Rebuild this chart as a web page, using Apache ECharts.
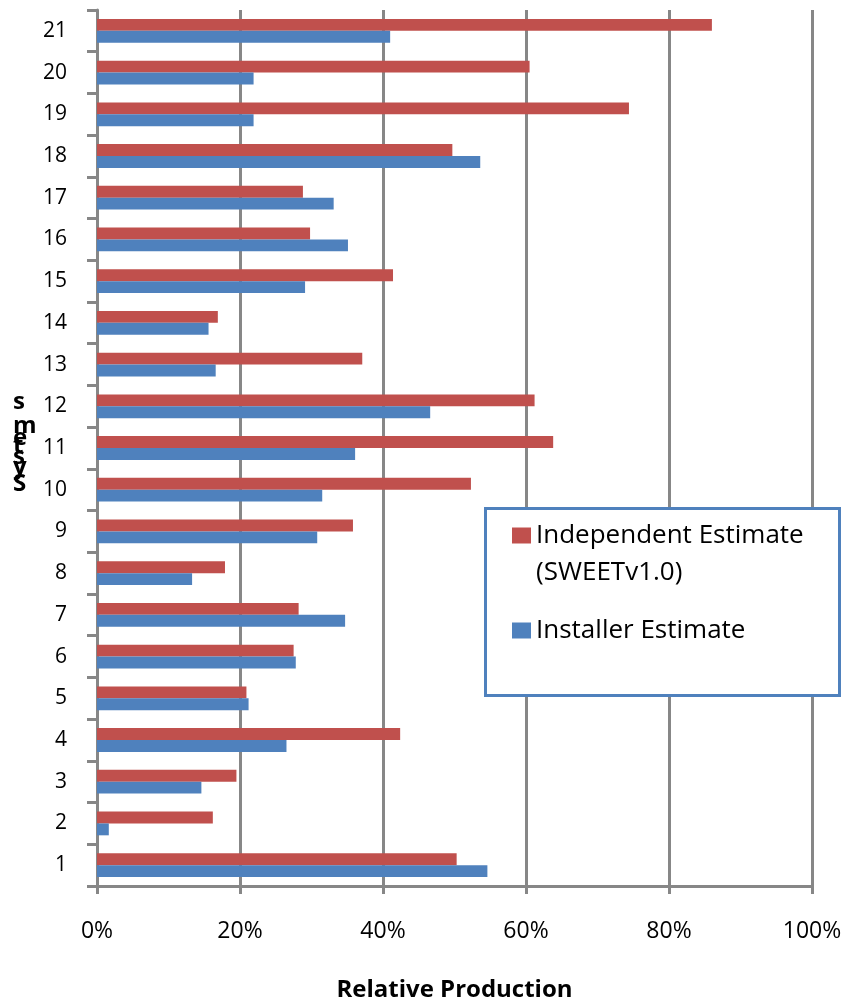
<!DOCTYPE html>
<html>
<head>
<meta charset="utf-8">
<script src="https://cdn.jsdelivr.net/npm/echarts@6/dist/echarts.min.js"></script>
<style>
  html, body { margin: 0; padding: 0; background: #fff; }
  #chart { width: 851px; height: 1006px; }
</style>
</head>
<body>
<div id="chart"></div>
<script>
// Systems 1..21 (bottom to top)
const categories = ['1','2','3','4','5','6','7','8','9','10','11','12','13','14','15','16','17','18','19','20','21'];

// Relative production, percent
const independentEstimate = [50.3, 16.2, 19.5, 42.4, 20.9, 27.5, 28.2, 17.9, 35.8, 52.3, 63.8, 61.2, 37.1, 16.9, 41.4, 29.8, 28.8, 49.7, 74.4, 60.5, 86.0];
const installerEstimate   = [54.6, 1.65, 14.6, 26.5, 21.2, 27.8, 34.7, 13.3, 30.8, 31.5, 36.1, 46.6, 16.6, 15.6, 29.1, 35.1, 33.1, 53.6, 21.9, 21.9, 41.0];

const seriesNames = ['Independent Estimate (SWEETv1.0)', 'Installer Estimate'];

const FONT = '"Open Sans", "Liberation Sans", sans-serif';
const GRID_GRAY = '#878787';
const RED = '#C0504D';
const BLUE = '#4F81BD';

// "Systems" stacked letter by letter, top to bottom, each line with its own height
const yTitleLetters = ['s', 'm', 'e', 't', 's', 'y', 'S'];
const yTitleLineHeights = [30, 18, 6, 10, 12, 8, 26];
const yTitleRich = {};
yTitleLetters.forEach((ch, i) => {
  yTitleRich['l' + i] = {
    fontFamily: FONT, fontSize: 24, fontWeight: 'bold', color: '#000',
    lineHeight: yTitleLineHeights[i]
  };
});
const yTitle = yTitleLetters.map((ch, i) => '{l' + i + '|' + ch + '}').join('\n');

const chart = echarts.init(document.getElementById('chart'), null, { renderer: 'canvas' });

chart.setOption({
  animation: false,
  backgroundColor: '#fff',
  textStyle: { fontFamily: FONT },
  grid: { left: 97, right: 39, top: 10, bottom: 120, containLabel: false, outerBoundsMode: 'none' },
  xAxis: {
    type: 'value',
    min: 0,
    max: 100,
    interval: 20,
    name: 'Relative Production',
    nameLocation: 'middle',
    nameGap: 92,
    nameTextStyle: { fontFamily: FONT, fontSize: 24, fontWeight: 'bold', color: '#000' },
    axisLine: { show: true, lineStyle: { color: GRID_GRAY, width: 3 } },
    axisTick: { show: true, length: 8, lineStyle: { color: GRID_GRAY, width: 3 } },
    splitLine: { show: true, lineStyle: { color: GRID_GRAY, width: 3 } },
    axisLabel: { formatter: '{value}%', fontFamily: FONT, fontSize: 23, color: '#000', margin: 34 }
  },
  yAxis: {
    type: 'category',
    data: categories,
    name: yTitle,
    nameLocation: 'middle',
    nameRotate: 0,
    nameGap: 84,
    nameTextStyle: {
      fontFamily: FONT, fontSize: 24, fontWeight: 'bold', color: '#000',
      align: 'left', padding: [0, 0, 12, 0], rich: yTitleRich
    },
    axisLine: { show: true, lineStyle: { color: GRID_GRAY, width: 3 } },
    axisTick: { show: true, length: 10, interval: 0, lineStyle: { color: GRID_GRAY, width: 3 } },
    splitLine: { show: false },
    axisLabel: { fontFamily: FONT, fontSize: 21, color: '#000', margin: 30, interval: 0 }
  },
  legend: [
    {
      data: [seriesNames[0]],
      orient: 'vertical',
      left: 512,
      top: 480,
      padding: 0,
      z: 10,
      icon: 'rect',
      itemWidth: 19,
      itemHeight: 16,
      selectedMode: false,
      // blank first line keeps the swatch level with the first text line
      formatter: (name) => ' \n' + name.replace(' (', '\n('),
      textStyle: { fontFamily: FONT, fontSize: 26, color: '#000', lineHeight: 37 }
    },
    {
      data: [seriesNames[1]],
      orient: 'vertical',
      left: 512,
      top: 612,
      padding: 0,
      z: 10,
      icon: 'rect',
      itemWidth: 19,
      itemHeight: 16,
      selectedMode: false,
      textStyle: { fontFamily: FONT, fontSize: 26, color: '#000', lineHeight: 37 }
    }
  ],
  graphic: [
    {
      type: 'rect',
      z: 9,
      left: 484,
      top: 507,
      shape: { width: 354, height: 187 },
      style: { fill: '#fff', stroke: BLUE, lineWidth: 3 }
    }
  ],
  series: [
    {
      name: seriesNames[0],
      type: 'bar',
      data: independentEstimate,
      barGap: '0%',
      barCategoryGap: '43%',
      itemStyle: { color: RED }
    },
    {
      name: seriesNames[1],
      type: 'bar',
      data: installerEstimate,
      barGap: '0%',
      barCategoryGap: '43%',
      itemStyle: { color: BLUE }
    }
  ]
});
</script>
</body>
</html>
